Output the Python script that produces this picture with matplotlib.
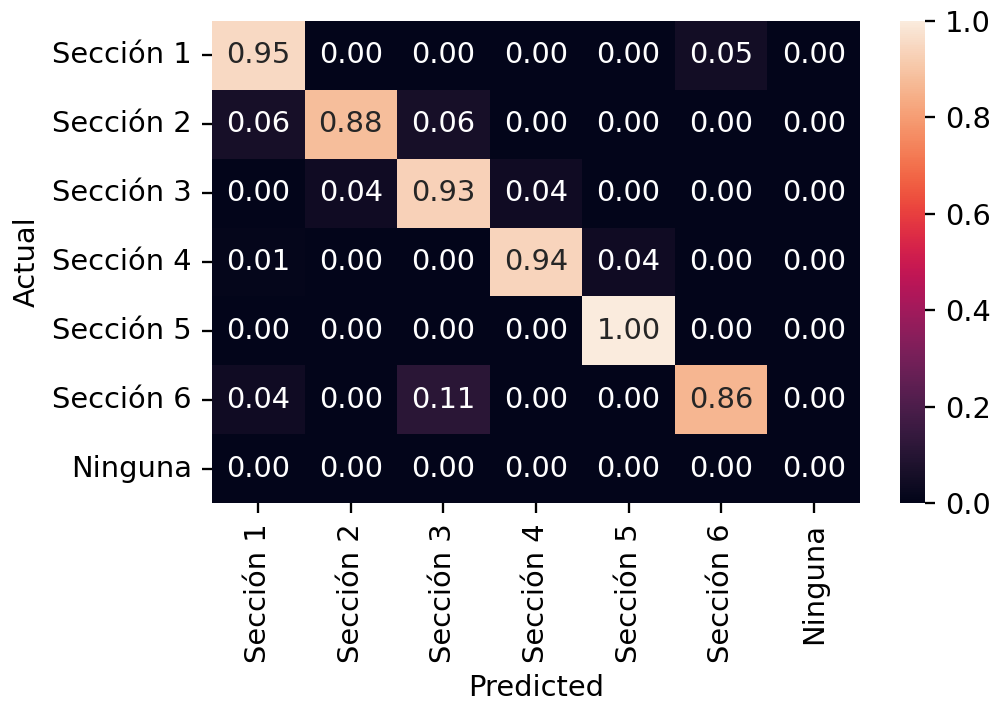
import matplotlib
matplotlib.use("Agg")
import matplotlib.pyplot as plt
import seaborn as sns
import numpy as np

labels = ["Sección 1", "Sección 2", "Sección 3", "Sección 4", "Sección 5", "Sección 6", "Ninguna"]
row1 = [0.95, 0.00, 0.00, 0.00, 0.00, 0.05, 0.00]
row2 = [0.06, 0.88, 0.06, 0.00, 0.00, 0.00, 0.00]
row3 = [0.00, 0.04, 0.93, 0.04, 0.00, 0.00, 0.00]
row4 = [0.01, 0.00, 0.00, 0.94, 0.04, 0.00, 0.00]
row5 = [0.00, 0.00, 0.00, 0.00, 1.00, 0.00, 0.00]
row6 = [0.04, 0.00, 0.11, 0.00, 0.00, 0.86, 0.00]
row7 = [0.00, 0.00, 0.00, 0.00, 0.00, 0.00, 0.00]
cm = np.array([row1, row2, row3, row4, row5, row6, row7])

plt.rcParams['font.family'] = ['DejaVu Sans']
s = 2.08
fs = 10 * s
fig = plt.figure(figsize=(9.93, 7.01), dpi=100)
ax = fig.add_axes([0.2135, 0.2825, 0.6526, 0.6876])
cax = fig.add_axes([0.9063, 0.2825, 0.0252, 0.6876])
sns.heatmap(cm, annot=True, fmt=".2f", cmap="rocket", xticklabels=labels, yticklabels=labels,
            ax=ax, cbar_ax=cax, annot_kws={"size": fs})
ax.tick_params(labelsize=fs, length=3.5 * s, width=0.8 * s, pad=3.5 * s)
ax.set_xticklabels(labels, rotation=90)
ax.set_yticklabels(labels, rotation=0)
ax.set_xlabel("Predicted", fontsize=fs, labelpad=4 * s)
ax.set_ylabel("Actual", fontsize=fs, labelpad=4 * s)
cax.tick_params(labelsize=fs, length=3.5 * s, width=0.8 * s, pad=3.5 * s)
fig.savefig("out.png", dpi=100)
